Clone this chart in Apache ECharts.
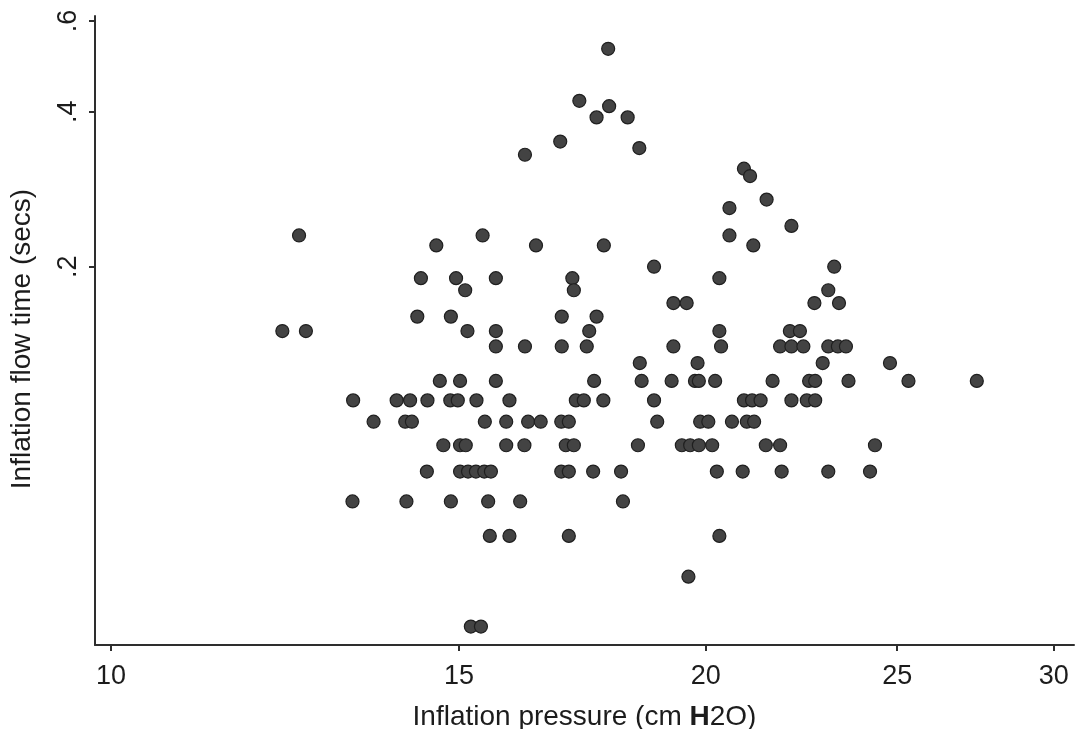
<!DOCTYPE html>
<html>
<head>
<meta charset="utf-8">
<title>Inflation flow time vs inflation pressure</title>
<script src="https://cdn.jsdelivr.net/npm/echarts@6/dist/echarts.min.js"></script>
<style>
  html, body { margin: 0; padding: 0; background: #ffffff; }
  #chart { width: 1077px; height: 729px; }
</style>
</head>
<body>
<div id="chart"></div>
<script>
// Inflation flow time (secs), one entry per recorded level
const flowLevels = [0.53, 0.42, 0.41, 0.39, 0.35, 0.34, 0.33, 0.31, 0.30, 0.27, 0.26, 0.24,
  0.23, 0.22, 0.20, 0.19, 0.18, 0.17, 0.16, 0.15, 0.14, 0.13, 0.12, 0.11, 0.10, 0.09,
  0.08, 0.07, 0.06, 0.05, 0.04];

// Inflation pressure (cm H2O) of every breath observed at each flow-time level above
const pressureAtLevel = [
  [17.85],
  [17.26],
  [17.87],
  [17.61, 18.26],
  [16.88],
  [18.51],
  [16.20],
  [20.91],
  [21.06],
  [21.47],
  [20.56],
  [22.10],
  [12.45, 15.42, 20.56],
  [14.61, 16.41, 17.76, 21.14],
  [18.83, 23.23],
  [14.35, 14.95, 15.66, 17.12, 20.32],
  [15.11, 17.15, 23.07],
  [19.26, 19.56, 22.70, 23.36],
  [14.29, 14.86, 16.91, 17.61],
  [12.21, 12.55, 15.15, 15.66, 17.46, 20.32, 22.06, 22.32],
  [15.66, 16.20, 16.91, 17.41, 19.26, 20.36, 21.81, 22.10, 22.41, 23.07, 23.33, 23.55],
  [18.52, 19.81, 22.92, 24.79],
  [14.67, 15.02, 15.66, 17.56, 18.56, 19.22, 19.75, 19.84, 20.22, 21.62, 22.56, 22.72, 23.62, 25.33, 27.43],
  [13.26, 13.95, 14.17, 14.46, 14.85, 14.98, 15.31, 15.91, 17.19, 17.35, 17.75, 18.83, 20.91, 21.11, 21.32, 22.10, 22.50, 22.72],
  [13.58, 14.09, 14.20, 15.46, 15.85, 16.26, 16.50, 16.90, 17.05, 18.90, 19.87, 20.06, 20.62, 20.98, 21.16],
  [14.73, 15.02, 15.12, 15.85, 16.19, 16.99, 17.15, 18.48, 19.45, 19.64, 19.84, 20.15, 21.45, 21.81, 24.36],
  [14.45, 15.02, 15.16, 15.30, 15.45, 15.57, 16.90, 17.05, 17.54, 18.12, 20.26, 20.88, 21.85, 23.07, 24.22],
  [13.25, 14.11, 14.86, 15.52, 16.11, 18.16],
  [15.55, 15.91, 17.05, 20.32],
  [19.60],
  [15.21, 15.39]
];

const xTicks = [10, 15, 20, 25, 30];
const yTicks = [0.2, 0.4, 0.6];

const yTitle = 'Inflation flow time (secs)';

// [pressure, flow time] pairs for the scatter series
const points = [];
flowLevels.forEach(function (level, i) {
  pressureAtLevel[i].forEach(function (p) { points.push([p, level]); });
});

const FONT = '"Liberation Sans", Arial, Helvetica, sans-serif';
const INK = '#1c1c1c';
const AXIS = '#2e2e2e';

const chart = echarts.init(document.getElementById('chart'), null, { renderer: 'canvas' });
chart.setOption({
  animation: false,
  backgroundColor: '#ffffff',
  grid: { left: 95, right: 3, top: 16, bottom: 84, containLabel: false, outerBoundsMode: 'none' },
  // vertical axis title, set a little below the plot's middle
  graphic: [{
    type: 'text',
    x: 22,
    y: 339,
    rotation: Math.PI / 2,
    style: {
      text: yTitle,
      fontFamily: FONT,
      fontSize: 28,
      fill: INK,
      align: 'center',
      verticalAlign: 'middle'
    }
  }],
  xAxis: {
    type: 'log',
    logBase: 10,
    min: 9.815,
    max: 30.72,
    name: '{n|Inflation pressure (cm }{b|H}{n|2O)}',
    nameLocation: 'middle',
    nameGap: 58,
    nameTextStyle: {
      rich: {
        n: { fontFamily: FONT, fontSize: 28, color: INK },
        b: { fontFamily: FONT, fontSize: 28, color: INK, fontWeight: 'bold' }
      }
    },
    axisLine: { show: true, lineStyle: { color: AXIS, width: 2 } },
    axisTick: { show: true, customValues: xTicks, length: 6, lineStyle: { color: AXIS, width: 2 } },
    axisLabel: {
      customValues: xTicks,
      fontFamily: FONT, fontSize: 27, color: INK, margin: 18,
      formatter: function (v) { return String(Math.round(v)); }
    },
    minorTick: { show: false },
    splitLine: { show: false }
  },
  yAxis: {
    type: 'log',
    logBase: 10,
    min: 0.03684,
    max: 0.6137,
    axisLine: { show: true, lineStyle: { color: AXIS, width: 2 } },
    axisTick: { show: true, customValues: yTicks, length: 6, lineStyle: { color: AXIS, width: 2 } },
    axisLabel: {
      customValues: yTicks,
      rotate: 90,
      fontFamily: FONT, fontSize: 27, color: INK, margin: 13,
      formatter: function (v) { return '.' + Math.round(v * 10); }
    },
    minorTick: { show: false },
    splitLine: { show: false }
  },
  series: [{
    type: 'scatter',
    name: yTitle,
    data: points,
    symbol: 'circle',
    symbolSize: 13,
    itemStyle: { color: '#434343', borderColor: '#1f1f1f', borderWidth: 1.2, opacity: 1 },
    emphasis: { disabled: true }
  }]
});
</script>
</body>
</html>
